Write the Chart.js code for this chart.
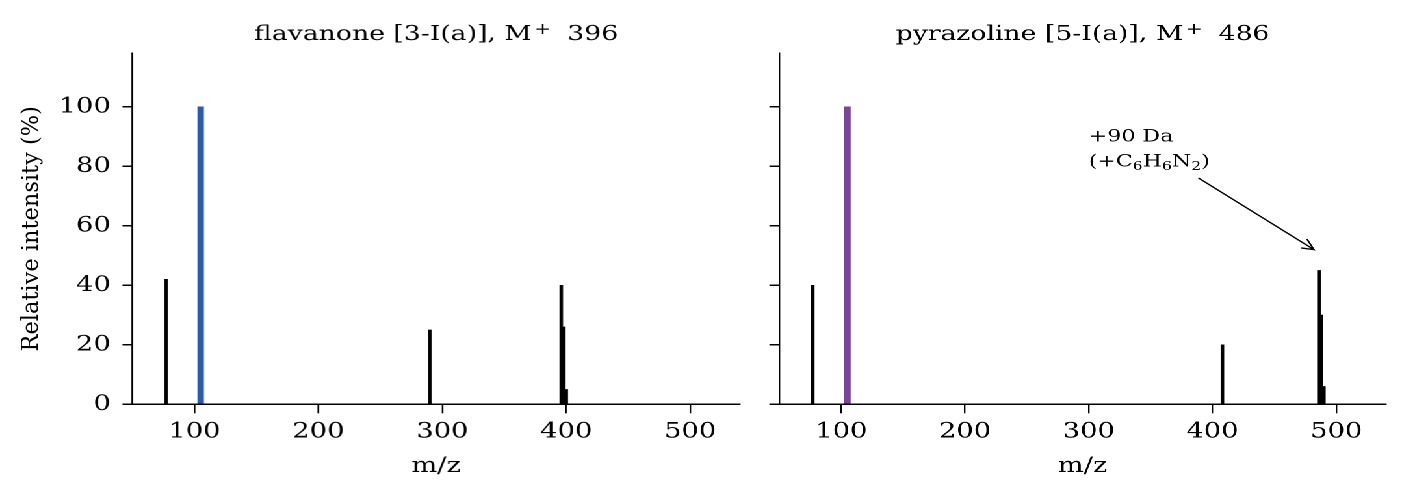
<!DOCTYPE html>
<html>
<head>
<meta charset="utf-8">
<script src="https://cdn.jsdelivr.net/npm/chart.js@4/dist/chart.umd.min.js"></script>
<style>
html, body { margin: 0; padding: 0; background: #fff; overflow: hidden; width: 1406px; height: 495px; }
#wrap { position: absolute; left: 0; top: 0; width: 1081.5px; height: 495px; transform: scale(1.3, 1); transform-origin: 0 0; }
.box { position: absolute; top: 0; height: 495px; }
</style>
</head>
<body>
<div id="wrap">
  <div class="box" id="boxL"><canvas id="cL"></canvas></div>
  <div class="box" id="boxR"><canvas id="cR"></canvas></div>
</div>
<script>
// ---------------- data ----------------
const xTicks = [100, 200, 300, 400, 500];
const yTicks = [0, 20, 40, 60, 80, 100];
const xRange = [50, 540];
const yRange = [0, 118];

const flavMz = [77, 290, 396, 398, 400];
const flavInt = [42, 25, 40, 26, 5];
const flavBaseMz = [105];
const flavBaseInt = [100];

const pyrMz = [77, 408, 486, 488, 490];
const pyrInt = [40, 20, 45, 30, 6];
const pyrBaseMz = [105];
const pyrBaseInt = [100];

const flavTitle = ["flavanone [3-I(a)], M", "+", " 396"];
const pyrTitle = ["pyrazoline [5-I(a)], M", "+", " 486"];
const xLabel = "m/z";
const yLabel = "Relative intensity (%)";
const annLine1 = "+90 Da";
const annLine2 = [["(+C", false], ["6", true], ["H", false], ["6", true], ["N", false], ["2", true], [")", false]];
const annAt = [300, 80];
const arrowFrom = [389, 76];
const arrowTo = [482, 52];

// ---------------- styling / layout ----------------
const S = 1.3;                 // horizontal stretch of the figure
const FONT = "'DejaVu Serif', 'Liberation Serif', serif";
const FS = 21;
const TFS = 20.5;
const AREA_TOP = 53.3, AREA_BOTTOM = 404.3;
const TITLE_BASE = 40, XLABEL_BASE = 472;
const BLUE = '#2b5ba8', PURPLE = '#7a449a';

const panels = [
  { box: 'boxL', canvas: 'cL', left: 0, width: 756, areaL: 132.4, areaR: 739.1, showY: true,
    title: flavTitle, mz: flavMz, inten: flavInt, baseMz: flavBaseMz, baseInt: flavBaseInt, color: BLUE, ann: false },
  { box: 'boxR', canvas: 'cR', left: 756, width: 650, areaL: 778.8, areaR: 1385.2, showY: false,
    title: pyrTitle, mz: pyrMz, inten: pyrInt, baseMz: pyrBaseMz, baseInt: pyrBaseInt, color: PURPLE, ann: true }
];

function stems(mz, inten, color, thick) {
  return {
    data: mz.map((x, i) => ({ x: x, y: inten[i] })),
    backgroundColor: color, borderWidth: 0, barThickness: thick, grouped: false
  };
}

function font(px) { return px + 'px ' + FONT; }

function textPlugin(p) {
  return {
    id: 'panelText',
    afterDraw(chart) {
      const ctx = chart.ctx, a = chart.chartArea;
      const xs = chart.scales.x, ys = chart.scales.y;
      ctx.save();
      ctx.fillStyle = '#000';
      ctx.strokeStyle = '#000';
      ctx.textBaseline = 'alphabetic';
      ctx.textAlign = 'left';
      const cx = (a.left + a.right) / 2;
      // title with superscript
      const supFs = TFS * 0.75;
      ctx.font = font(TFS);
      const w1 = ctx.measureText(p.title[0]).width;
      const w3 = ctx.measureText(p.title[2]).width;
      ctx.font = font(supFs);
      const w2 = ctx.measureText(p.title[1]).width;
      const gapA = 2, gapB = 6;
      const total = w1 + gapA + w2 + gapB + w3;
      let x0 = cx - total / 2;
      ctx.font = font(TFS);
      ctx.fillText(p.title[0], x0, TITLE_BASE);
      ctx.font = font(supFs);
      ctx.fillText(p.title[1], x0 + w1 + gapA, TITLE_BASE - 6);
      ctx.font = font(TFS);
      ctx.fillText(p.title[2], x0 + w1 + gapA + w2 + gapB, TITLE_BASE);
      // x label
      ctx.font = font(FS);
      ctx.textAlign = 'center';
      ctx.fillText(xLabel, cx, XLABEL_BASE);
      // y label (drawn without horizontal stretch)
      if (p.showY) {
        ctx.save();
        ctx.translate(38 / S, (AREA_TOP + AREA_BOTTOM) / 2);
        ctx.scale(1 / S, 1);
        ctx.rotate(-Math.PI / 2);
        ctx.font = font(22.5);
        ctx.textAlign = 'center';
        ctx.fillText(yLabel, 0, 0);
        ctx.restore();
      }
      if (p.ann) {
        const afs = 17, sfs = 12;
        const tx = xs.getPixelForValue(annAt[0]);
        const ty = ys.getPixelForValue(annAt[1]);
        ctx.textAlign = 'left';
        ctx.font = font(afs);
        ctx.fillText(annLine1, tx, ty - 25);
        let cxp = tx;
        annLine2.forEach(([t, sub]) => {
          ctx.font = font(sub ? sfs : afs);
          ctx.fillText(t, cxp, sub ? ty + 3.5 : ty);
          cxp += ctx.measureText(t).width;
        });
        // arrow
        const p0 = [xs.getPixelForValue(arrowFrom[0]), ys.getPixelForValue(arrowFrom[1])];
        const p1 = [xs.getPixelForValue(arrowTo[0]), ys.getPixelForValue(arrowTo[1])];
        const P0 = [p0[0] * S, p0[1]], P1 = [p1[0] * S, p1[1]];
        const dx = P1[0] - P0[0], dy = P1[1] - P0[1];
        const len = Math.hypot(dx, dy);
        const ux = dx / len, uy = dy / len;
        const nx = -uy, ny = ux;
        const L = 11, W = 5;
        const h1 = [(P1[0] - L * ux + W * nx) / S, P1[1] - L * uy + W * ny];
        const h2 = [(P1[0] - L * ux - W * nx) / S, P1[1] - L * uy - W * ny];
        ctx.lineWidth = 1.3;
        ctx.lineCap = 'round';
        ctx.beginPath();
        ctx.moveTo(p0[0], p0[1]);
        ctx.lineTo(p1[0], p1[1]);
        ctx.moveTo(h1[0], h1[1]);
        ctx.lineTo(p1[0], p1[1]);
        ctx.lineTo(h2[0], h2[1]);
        ctx.stroke();
      }
      ctx.restore();
    }
  };
}

panels.forEach(p => {
  const box = document.getElementById(p.box);
  box.style.left = (p.left / S) + 'px';
  box.style.width = (p.width / S) + 'px';
  const areaLeft = (p.areaL - p.left) / S;
  const padRight = (p.left + p.width - p.areaR) / S;
  new Chart(document.getElementById(p.canvas), {
    type: 'bar',
    data: {
      datasets: [
        stems(p.mz, p.inten, '#000', 2.1),
        stems(p.baseMz, p.baseInt, p.color, 4.3)
      ]
    },
    plugins: [textPlugin(p)],
    options: {
      responsive: true,
      maintainAspectRatio: false,
      animation: false,
      devicePixelRatio: 2,
      layout: { padding: { top: AREA_TOP, left: 0, right: padRight, bottom: 0 } },
      plugins: { legend: { display: false }, tooltip: { enabled: false }, title: { display: false } },
      scales: {
        x: {
          type: 'linear', min: xRange[0], max: xRange[1], offset: false,
          afterBuildTicks: s => { s.ticks = xTicks.map(v => ({ value: v })); },
          afterFit: s => { s.height = 495 - AREA_BOTTOM; },
          grid: { display: true, drawOnChartArea: false, drawTicks: true, offset: false,
                  tickLength: 9, lineWidth: 1.2, tickWidth: 1.2, tickColor: '#000', color: '#000' },
          border: { display: true, color: '#000', width: 1.5, z: 1 },
          ticks: { font: { family: FONT, size: FS }, color: '#000', padding: 6,
                   maxRotation: 0, autoSkip: false, callback: v => String(v) }
        },
        y: {
          type: 'linear', min: yRange[0], max: yRange[1],
          afterBuildTicks: s => { s.ticks = yTicks.map(v => ({ value: v })); },
          afterFit: s => { s.width = areaLeft; },
          grid: { display: true, drawOnChartArea: false, drawTicks: true,
                  tickLength: 10 / S, lineWidth: 1.5, tickWidth: 1.5, tickColor: '#000', color: '#000' },
          border: { display: true, color: '#000', width: 1.2, z: 1 },
          ticks: { font: { family: FONT, size: FS }, color: '#000', padding: 9,
                   callback: p.showY ? (v => String(v)) : (() => '') }
        }
      }
    }
  });
});
</script>
</body>
</html>
